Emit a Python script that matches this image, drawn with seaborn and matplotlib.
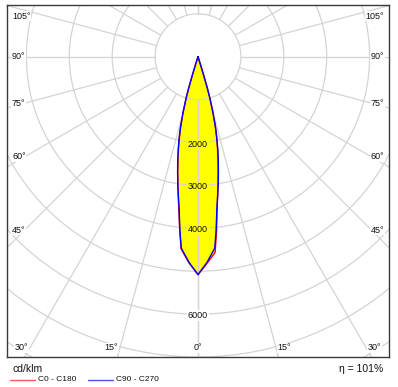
import numpy as np
import pandas as pd
import matplotlib
matplotlib.use("Agg")
import matplotlib.pyplot as plt
from matplotlib.patches import Circle
from matplotlib.lines import Line2D
import seaborn as sns

# ---- data (cd/klm) ----
gamma = [0, 2.5, 5, 6, 7, 8, 9, 10, 11, 12, 13, 14, 15, 16, 16.5, 17, 17.5, 18]
c0 = [5080, 4820, 4580, 4120, 3640, 3280, 2990, 2710, 2450, 2190, 1930, 1650, 1330, 990, 760, 450, 130, 0]
c180 = [5080, 4810, 4500, 4080, 3650, 3300, 3000, 2720, 2450, 2190, 1930, 1650, 1330, 990, 760, 450, 130, 0]
c90 = [5080, 4800, 4480, 4050, 3600, 3290, 3010, 2740, 2480, 2220, 1960, 1680, 1360, 1020, 790, 480, 150, 0]
c270 = [5080, 4800, 4480, 4050, 3600, 3290, 3010, 2740, 2480, 2220, 1960, 1680, 1360, 1020, 790, 480, 150, 0]

ring_values = [1000, 2000, 3000, 4000, 5000, 6000, 7000, 8000, 9000]
ring_labels = [2000, 3000, 4000, 6000]
angle_ticks = [0, 15, 30, 45, 60, 75, 90, 105, 120, 135, 150, 165, 180]
bottom_angle_labels = [0, 15, 30]
side_angle_labels = [45, 60, 75, 90, 105]
unit_label = "cd/klm"
eff_label = "η = 101%"
series_names = ["C0 - C180", "C90 - C270"]

sns.set_theme(style="white")
plt.rcParams['font.family'] = ['Liberation Sans', 'DejaVu Sans']

W, H = 398, 387
fig = plt.figure(figsize=(W / 100, H / 100), dpi=100)
# frame in pixels
fl, fr, ft, fb = 7, 389, 5, 357
ax = fig.add_axes([fl / W, (H - fb) / H, (fr - fl) / W, (fb - ft) / H])

cx, cy = 198.0, 56.7
s = 7000.0 / (fb - cy)  # data units per pixel


def X(px):
    return (px - cx) * s


def Y(py):
    return -(py - cy) * s


ax.set_xlim(X(fl), X(fr))
ax.set_ylim(Y(fb), Y(ft))
ax.set_aspect('equal')
ax.set_xticks([])
ax.set_yticks([])
for sp in ax.spines.values():
    sp.set_color('#3a3a3a')
    sp.set_linewidth(1.0)

grid_col = '#d4d4d4'
# rings
for r in ring_values:
    ax.add_patch(Circle((0, 0), r, fill=False, ec=grid_col, lw=0.9, zorder=2))
# radial lines from the first ring outwards
for a in angle_ticks:
    t = np.radians(a)
    for sgn in (-1, 1):
        ax.plot([sgn * ring_values[0] * np.sin(t), sgn * 10000 * np.sin(t)],
                [-ring_values[0] * np.cos(t), -10000 * np.cos(t)],
                color=grid_col, lw=0.9, zorder=2)


def curve(left, right):
    g = np.radians(np.array(gamma))
    l = np.array(left, float)
    r = np.array(right, float)
    xs = np.concatenate([-(l * np.sin(g))[::-1], r * np.sin(g)])
    ys = np.concatenate([-(l * np.cos(g))[::-1], -(r * np.cos(g))])
    return pd.DataFrame({"x": xs, "y": ys})


red_df = curve(c180, c0)
blue_df = curve(c270, c90)

ax.fill(red_df.x, red_df.y, color='#ffff00', lw=0, zorder=1)
ax.fill(blue_df.x, blue_df.y, color='#ffff00', lw=0, zorder=1)

sns.lineplot(data=red_df, x="x", y="y", sort=False, estimator=None, color='#ff0000',
             lw=1.0, ax=ax, zorder=3)
sns.lineplot(data=blue_df, x="x", y="y", sort=False, estimator=None, color='#0000ff',
             lw=1.0, ax=ax, zorder=3)
ax.set_xlabel("")
ax.set_ylabel("")
ax.set_xlim(X(fl), X(fr))
ax.set_ylim(Y(fb), Y(ft))

fs = 6.5
# ring labels
for v in ring_labels:
    inside = v <= max(c0)
    ax.text(0, -v - 1.5 * s, f"{v}", ha='center', va='center', fontsize=fs, color='#111111',
            zorder=5, bbox=dict(boxstyle='square,pad=0.08', fc='#ffff00' if inside else 'white', ec='none'))

# bottom angle labels
for a in bottom_angle_labels:
    py = 348.0
    dx = (py - cy) * np.tan(np.radians(a))
    off = 0 if a == 0 else 8.5
    for sgn in ((1,) if a == 0 else (-1, 1)):
        ax.text(X(cx + sgn * (dx + off)), Y(py), f"{a}°", ha='center', va='center', fontsize=fs,
                color='#111111', zorder=5,
                bbox=dict(boxstyle='square,pad=0.08', fc='white', ec='none'))

# side angle labels
for a in side_angle_labels:
    cot = np.cos(np.radians(a)) / np.sin(np.radians(a))
    py = cy + 173.5 * cot
    py = max(py, 16.0)
    ax.text(X(12), Y(py), f"{a}°", ha='left', va='center', fontsize=fs, color='#111111', zorder=5,
            bbox=dict(boxstyle='square,pad=0.08', fc='white', ec='none'))
    ax.text(X(384), Y(py), f"{a}°", ha='right', va='center', fontsize=fs, color='#111111', zorder=5,
            bbox=dict(boxstyle='square,pad=0.08', fc='white', ec='none'))

# footer
fig.text(12.5 / W, 1 - 369 / H, unit_label, ha='left', va='center', fontsize=7.5, color='#111111')
fig.text(383 / W, 1 - 369 / H, eff_label, ha='right', va='center', fontsize=7.5, color='#111111')
ly = 1 - 379.5 / H
fig.add_artist(Line2D([10 / W, 35 / W], [ly, ly], color='#ff5a5a', lw=1.0))
fig.text(38 / W, ly, series_names[0], ha='left', va='center', fontsize=6, color='#111111')
fig.add_artist(Line2D([88 / W, 113 / W], [ly, ly], color='#4d4dff', lw=1.0))
fig.text(116 / W, ly, series_names[1], ha='left', va='center', fontsize=6, color='#111111')

fig.savefig("out.png", dpi=100, facecolor='white')
